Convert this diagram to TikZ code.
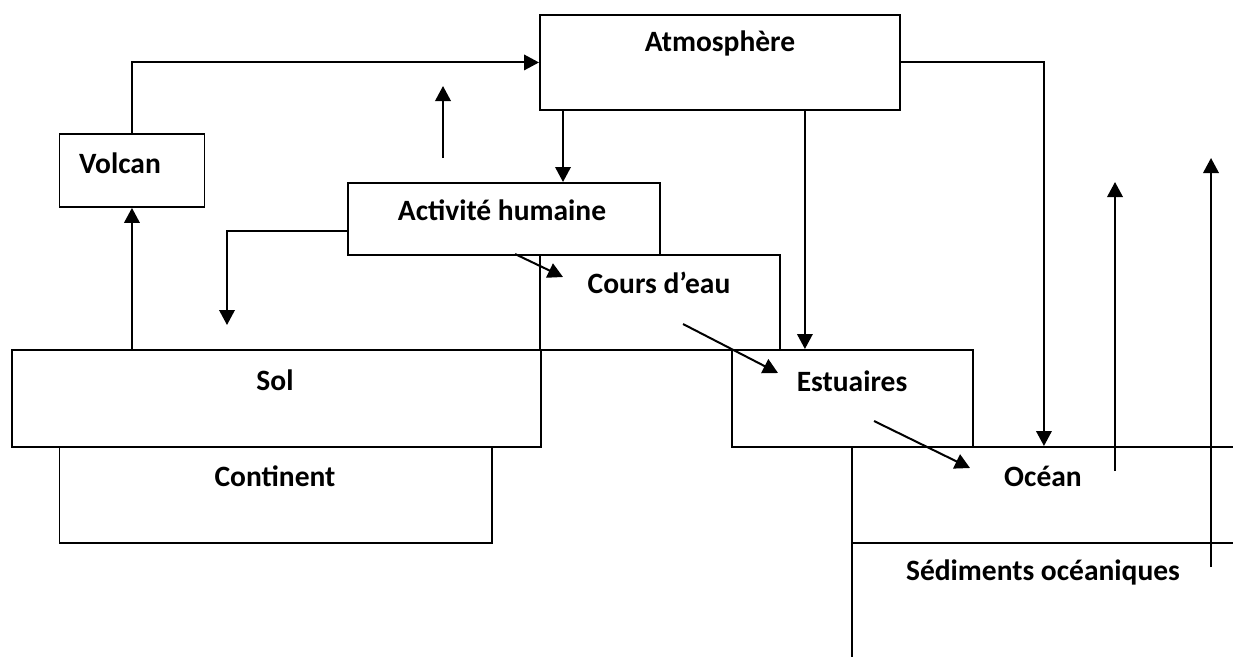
\documentclass[tikz,border=0pt]{standalone}
\usepackage{fontspec}
\setmainfont{Carlito}
\usetikzlibrary{arrows.meta}

\begin{document}
\begin{tikzpicture}[x=1pt,y=-1pt,
  box/.style={draw,line width=1.9pt,rectangle,inner sep=0pt,anchor=north west},
  lbl/.style={font=\fontsize{29.5}{34}\selectfont\bfseries,inner sep=0pt},
  arr/.style={line width=2pt,-{Triangle[length=15pt,width=15.5pt]}}]

  \clip (0,0) rectangle (1233,656);
  \fill[white] (0,0) rectangle (1233,656);

  % reservoirs
  \node[box,minimum width=360,minimum height=95] (atm) at (539,14) {};
  \node[box,minimum width=145,minimum height=73] (volc) at (58.5,133) {};
  \node[box,minimum width=312,minimum height=72] (act) at (347,182) {};
  \node[box,minimum width=240,minimum height=95] (cours) at (539,254) {};
  \node[box,minimum width=529,minimum height=97] (sol) at (11,349) {};
  \node[box,minimum width=432.5,minimum height=96] (cont) at (58.5,446) {};
  \node[box,minimum width=241,minimum height=97] (est) at (731,349) {};
  \node[box,minimum width=384,minimum height=96] (oc) at (851,446) {};
  \node[box,minimum width=384,minimum height=130] (sed) at (851,542) {};

  % names
  \node[lbl] (atmT)  at (720,43)  {Atmosphère};
  \node[lbl] (volcT) at (120,163) {Volcan};
  \node[lbl] (actT)  at (502,210) {Activité humaine};
  \node[lbl] (coursT) at (659,283) {Cours d’eau};
  \node[lbl] (solT)  at (275,380) {Sol};
  \node[lbl] (contT) at (275,476) {Continent};
  \node[lbl] (estT)  at (852,381) {Estuaires};
  \node[lbl] (ocT)   at (1043,476) {Océan};
  \node[lbl] (sedT)  at (1043,572) {Sédiments océaniques};

  % free ends of the flows
  \coordinate (upA0) at (443,158);  \coordinate (upA1) at (443,86);
  \coordinate (dnS)  at (227,325);
  \coordinate (d1a) at (515,254);   \coordinate (d1b) at (563,277);
  \coordinate (d2a) at (683,324);   \coordinate (d2b) at (778,373);
  \coordinate (d3a) at (874,421);   \coordinate (d3b) at (970,468);
  \coordinate (upB0) at (1115,471); \coordinate (upB1) at (1115,182);
  \coordinate (upC0) at (1211,567); \coordinate (upC1) at (1211,158);

  % flows
  \draw[arr] (volc.north) |- (atm.west);
  \draw[arr] (sol.north -| volc.south) -- (volc.south);
  \draw[arr] (upA0) -- (upA1);
  \draw[arr] ([xshift=24pt]atm.south west) -- ([xshift=24pt]atm.south west |- act.north);
  \draw[arr] ([yshift=-12pt]act.west) -| (dnS);
  \draw[arr] (d1a) -- (d1b);
  \draw[arr] (d2a) -- (d2b);
  \draw[arr] ([xshift=-96pt]atm.south east) -- ([xshift=-96pt]atm.south east |- est.north);
  \draw[arr] (d3a) -- (d3b);
  \draw[arr] (atm.east) -| (oc.north);
  \draw[arr] (upB0) -- (upB1);
  \draw[arr] (upC0) -- (upC1);
\end{tikzpicture}
\end{document}
